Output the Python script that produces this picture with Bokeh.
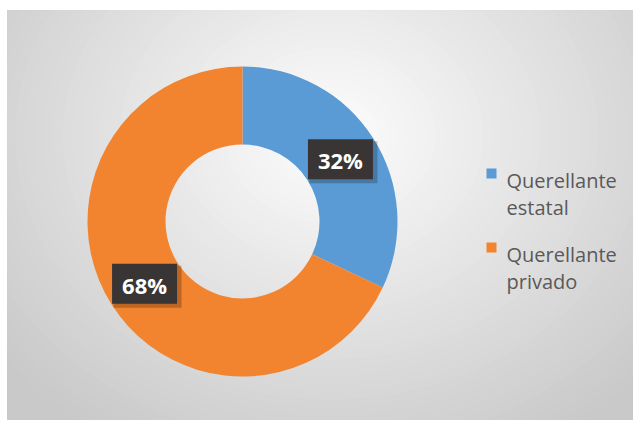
import numpy as np
from bokeh.plotting import figure
from bokeh.models import Range1d
from bokeh.embed import file_html
from bokeh.resources import INLINE
from bokeh.core.properties import value

# ---- data ----
categories = ["Querellante estatal", "Querellante privado"]
values = [32, 68]
colors = ["#5B9BD5", "#F2832F"]

W, H = 633, 420
BL, BT = 7, 10
FW, FH = W - BL, H - BT
p = figure(width=W, height=H, x_range=Range1d(0, FW), y_range=Range1d(0, FH),
           output_backend="svg", toolbar_location=None,
           min_border_left=BL, min_border_top=BT, min_border_right=0, min_border_bottom=0)
p.axis.visible = False
p.grid.visible = False
p.outline_line_color = "#c8c8c8"
p.background_fill_color = "#c9c9c9"
p.border_fill_color = "#ffffff"

def sx(x):  # screen x -> data x
    return x - BL

def sy(y):  # screen y -> data y
    return H - y

# ---- radial background gradient (decoration) ----
gcx, gcy = sx(330), sy(135)
ga, gb = 430, 360
n = 45
c_out = np.array([0xc9, 0xc9, 0xc9])
c_in = np.array([0xfe, 0xfe, 0xfe])
for i in range(n):
    t = 1 - i / n
    c = (c_out * t + c_in * (1 - t)).astype(int)
    p.ellipse(x=gcx, y=gcy, width=2 * ga * t, height=2 * gb * t,
              fill_color="#%02x%02x%02x" % tuple(c), line_color=None)

# ---- donut ----
cx, cy = sx(242), sy(221)
r_out, r_in = 155, 77
total = float(sum(values))
fracs = [v / total for v in values]
cum = np.concatenate([[0], np.cumsum(fracs)])
starts = [np.pi / 2 - 2 * np.pi * cum[i] for i in range(len(values))]
ends = [np.pi / 2 - 2 * np.pi * cum[i + 1] for i in range(len(values))]

p.annular_wedge(x=[cx] * len(values), y=[cy] * len(values),
                inner_radius=r_in, outer_radius=r_out,
                start_angle=starts, end_angle=ends, direction="clock",
                fill_color=colors, line_color=None)

# ---- data labels ----
mids = [np.pi / 2 - 2 * np.pi * (cum[i] + fracs[i] / 2) for i in range(len(values))]
rm = (r_in + r_out) / 2
lx = [cx + rm * np.cos(a) for a in mids]
ly = [cy + rm * np.sin(a) for a in mids]
labels = ["%d%%" % round(f * 100) for f in fracs]

p.rect(x=[x + 3 for x in lx], y=[y - 3 for y in ly], width=68, height=42,
       fill_color="#000000", fill_alpha=0.22, line_color=None)
p.rect(x=lx, y=ly, width=65, height=40, fill_color="#3A3535", line_color=None)
p.text(x=lx, y=[y - 1 for y in ly], text=labels, text_color="#ffffff",
       text_font=value("Open Sans"), text_font_style="bold", text_font_size="22px",
       text_align="center", text_baseline="middle")

# ---- legend ----
leg_mx = sx(491)
leg_my = [sy(173), sy(247)]
leg_tx = sx(506)
line1 = [sy(180), sy(254)]
line2 = [sy(207), sy(281)]
p.rect(x=[leg_mx] * 2, y=leg_my, width=10, height=10, fill_color=colors, line_color=None)
first = [c.split(" ")[0] for c in categories]
second = [c.split(" ", 1)[1] for c in categories]
p.text(x=[leg_tx] * 2, y=line1, text=first, text_color="#595959",
       text_font=value("Open Sans"), text_font_size="20px",
       text_align="left", text_baseline="alphabetic")
p.text(x=[leg_tx] * 2, y=line2, text=second, text_color="#595959",
       text_font=value("Open Sans"), text_font_size="20px",
       text_align="left", text_baseline="alphabetic")

open("out.html", "w").write(file_html(p, INLINE))
